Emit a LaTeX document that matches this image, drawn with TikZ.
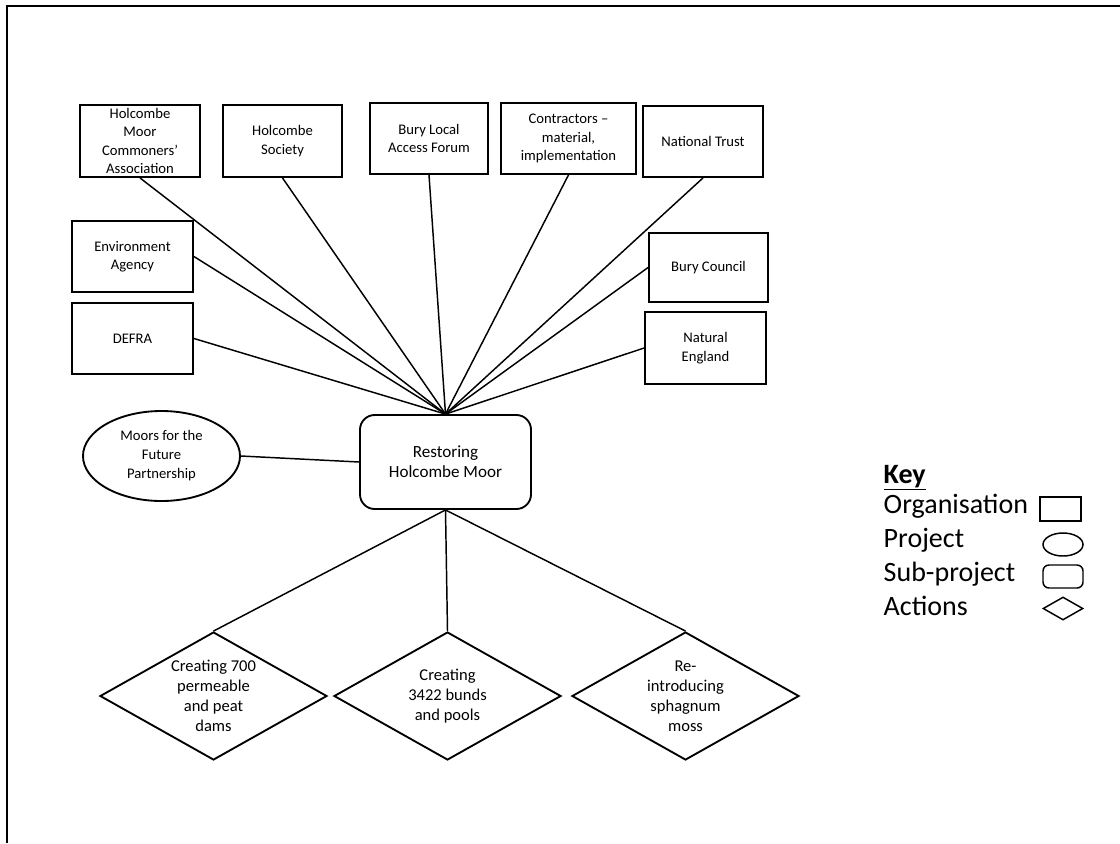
\documentclass[tikz,border=0pt]{standalone}
\usepackage{fontspec}
\setmainfont{Carlito}
\usetikzlibrary{shapes.geometric}
\begin{document}
\begin{tikzpicture}[x=0.75pt, y=-0.75pt, line width=1.1pt]
  \tikzstyle{org}=[rectangle, draw, line width=1.4pt, inner sep=0pt, align=center, font=\fontsize{11}{13.9}\selectfont]
  \tikzstyle{project}=[ellipse, draw, line width=1.4pt, inner sep=0pt, align=center, font=\fontsize{11}{14.2}\selectfont]
  \tikzstyle{subproject}=[rectangle, rounded corners=11pt, draw, line width=1.4pt, inner sep=0pt, align=center, font=\fontsize{12.8}{15}\selectfont]
  \tikzstyle{action}=[diamond, draw, line width=1.4pt, shape aspect=1.77, inner sep=0pt, align=center, font=\fontsize{12.4}{15}\selectfont]
  \tikzstyle{keytext}=[anchor=base west, inner sep=0pt, font=\fontsize{21}{25}\selectfont]
  \tikzstyle{keysym}=[line width=1.1pt, minimum width=30pt, minimum height=17.25pt]

  \useasboundingbox (0,0) rectangle (1120,843);
  \draw[line width=1.5pt] (6.5,843) -- (6.5,5.5) -- (1120,5.5);

  \node[subproject, minimum width=128.25pt, minimum height=70.5pt] (0) at (445.5,462) {Restoring\\Holcombe Moor};
  \node[org, minimum width=90pt,    minimum height=54pt]    (1) at (140,141)   {Holcombe\\Moor\\Commoners’\\Association};
  \node[org, minimum width=89.25pt, minimum height=54pt]    (2) at (282.5,141) {Holcombe\\Society};
  \node[org, minimum width=88.5pt,  minimum height=53.25pt] (3) at (429,138.5) {Bury Local\\Access Forum};
  \node[org, minimum width=101.25pt,minimum height=53.25pt] (4) at (568.5,138.5) {Contractors –\\material,\\implementation};
  \node[org, minimum width=90pt,    minimum height=53.25pt] (5) at (703,141.5) {National Trust};
  \node[org, minimum width=90.75pt, minimum height=53.25pt] (6) at (132.5,256.5) {Environment\\Agency};
  \node[org, minimum width=90.75pt, minimum height=53.25pt] (7) at (132.5,338.5) {DEFRA};
  \node[org, minimum width=89.25pt, minimum height=51.75pt] (8) at (708.5,267.5) {Bury Council};
  \node[org, minimum width=90.75pt, minimum height=54pt]    (9) at (705.5,348) {Natural\\England};
  \node[project, minimum width=117.75pt, minimum height=67.5pt] (10) at (161.5,456) {Moors for the\\Future\\Partnership};
  \node[action, minimum width=170.25pt, minimum height=96pt] (11) at (213.5,696) {Creating 700\\permeable\\and peat\\dams};
  \node[action, minimum width=170.25pt, minimum height=96pt] (12) at (447.5,696) {Creating\\3422 bunds\\and pools};
  \node[action, minimum width=170.25pt, minimum height=96pt] (13) at (685.5,696) {Re-\\introducing\\sphagnum\\moss};

  \path (0.north) edge (1.south);
  \path (0.north) edge (2.south);
  \path (0.north) edge (3.south);
  \path (0.north) edge (4.south);
  \path (0.north) edge (5.south);
  \path (0.north) edge (6.east);
  \path (0.north) edge (7.east);
  \path (0.north) edge (8.west);
  \path (0.north) edge (9.west);
  \path (10.east) edge (0.west);
  \path (0.south) edge (11.north);
  \path (0.south) edge (12.north);
  \path (0.south) edge (13.north);

  % key
  \node[keytext] (key) at (883,483) {\textbf{\underline{Key}}};
  \node[keytext] (k1) at (883,513) {Organisation};
  \node[keytext] (k2) at (883,547) {Project};
  \node[keytext] (k3) at (883,581) {Sub-project};
  \node[keytext] (k4) at (883,615) {Actions};
  \node[org, keysym, minimum width=30.75pt, minimum height=18pt] (s1) at (1060.5,509) {};
  \node[project, keysym] (s2) at (1063,544.5) {};
  \node[subproject, keysym, rounded corners=4.5pt] (s3) at (1063,576.5) {};
  \node[action, keysym] (s4) at (1063,608.5) {};
\end{tikzpicture}
\end{document}
